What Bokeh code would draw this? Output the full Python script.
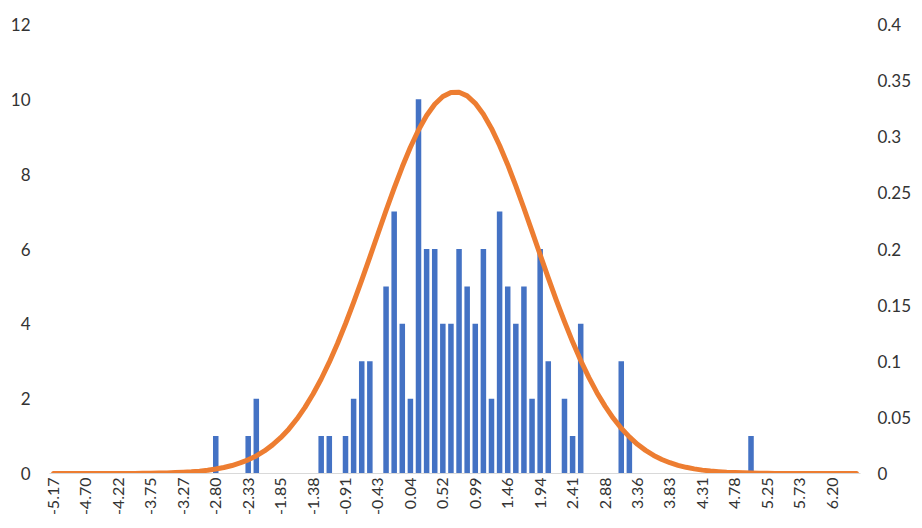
import math
from bokeh.plotting import figure
from bokeh.models import Range1d, LinearAxis, FixedTicker
from bokeh.embed import file_html
from bokeh.resources import INLINE

# ---- data -------------------------------------------------------------
# x-axis tick labels (every 4th bin of 100 bins)
tick_labels = ["-5.17", "-4.70", "-4.22", "-3.75", "-3.27", "-2.80", "-2.33",
               "-1.85", "-1.38", "-0.91", "-0.43", "0.04", "0.52", "0.99",
               "1.46", "1.94", "2.41", "2.88", "3.36", "3.83", "4.31", "4.78",
               "5.25", "5.73", "6.20"]

# frequency per bin (left axis)
counts = [0, 0, 0, 0, 0, 0, 0, 0, 0, 0,
          0, 0, 0, 0, 0, 0, 0, 0, 0, 0,
          1, 0, 0, 0, 1, 2, 0, 0, 0, 0,
          0, 0, 0, 1, 1, 0, 1, 2, 3, 3,
          0, 5, 7, 4, 2, 10, 6, 6, 4, 4,
          6, 5, 4, 6, 2, 7, 5, 4, 5, 2,
          6, 3, 0, 2, 1, 4, 0, 0, 0, 0,
          3, 1, 0, 0, 0, 0, 0, 0, 0, 0,
          0, 0, 0, 0, 0, 0, 1, 0, 0, 0,
          0, 0, 0, 0, 0, 0, 0, 0, 0, 0]

# density curve per bin (right axis)
density = [0, 0, 0, 0, 0, 0, 0, 0, 0.0001, 0.0001,
           0.0001, 0.0002, 0.0003, 0.0004, 0.0005, 0.0008, 0.0011, 0.0015, 0.0021, 0.0029,
           0.0040, 0.0053, 0.0071, 0.0094, 0.0122, 0.0157, 0.0201, 0.0255, 0.0319, 0.0395,
           0.0485, 0.0589, 0.0708, 0.0842, 0.0992, 0.1156, 0.1334, 0.1524, 0.1723, 0.1928,
           0.2136, 0.2343, 0.2543, 0.2732, 0.2906, 0.3060, 0.3189, 0.3289, 0.3358, 0.3395,
           0.3397, 0.3364, 0.3298, 0.3200, 0.3074, 0.2922, 0.2751, 0.2562, 0.2363, 0.2157,
           0.1949, 0.1743, 0.1543, 0.1352, 0.1173, 0.1007, 0.0856, 0.0720, 0.0600, 0.0494,
           0.0403, 0.0326, 0.0260, 0.0206, 0.0161, 0.0125, 0.0096, 0.0073, 0.0055, 0.0041,
           0.0030, 0.0022, 0.0016, 0.0011, 0.0008, 0.0006, 0.0004, 0.0003, 0.0002, 0.0001,
           0.0001, 0.0001, 0, 0, 0, 0, 0, 0, 0, 0]

left_ticks = [0, 2, 4, 6, 8, 10, 12]
right_ticks = [0, 0.05, 0.1, 0.15, 0.2, 0.25, 0.3, 0.35, 0.4]
right_labels = ["0", "0.05", "0.1", "0.15", "0.2", "0.25", "0.3", "0.35", "0.4"]

# ---- figure -----------------------------------------------------------
FONT = "Lato"
TXT = "#333333"
idx = list(range(len(counts)))

p = figure(width=914, height=520, output_backend="svg", toolbar_location=None,
           x_range=Range1d(-0.5, len(counts) - 0.5), y_range=Range1d(0, 12),
           min_border_left=49, min_border_right=48, min_border_top=24,
           min_border_bottom=47)
p.outline_line_color = None
p.grid.visible = False
p.background_fill_color = "white"

p.extra_y_ranges = {"pdf": Range1d(0, 0.4)}

p.vbar(x=idx, top=counts, width=0.68, fill_color="#4472C4", line_color=None)
p.line(x=idx, y=density, y_range_name="pdf", line_color="#ED7D31",
       line_width=5, line_cap="round", line_join="round")

# x axis
xa = p.xaxis[0]
tick_pos = [i * 4 for i in range(len(tick_labels))]
xa.ticker = FixedTicker(ticks=tick_pos)
xa.major_label_overrides = {t: l for t, l in zip(tick_pos, tick_labels)}
xa.major_label_orientation = math.pi / 2
xa.axis_line_color = "#d9d9d9"
xa.axis_line_width = 1
xa.major_tick_line_color = None
xa.minor_tick_line_color = None
xa.major_tick_out = 0
xa.major_tick_in = 0
xa.major_label_standoff = 4
xa.major_label_text_font = FONT
xa.major_label_text_font_size = "16px"
xa.major_label_text_color = TXT

# left axis
ya = p.yaxis[0]
ya.ticker = FixedTicker(ticks=left_ticks)
ya.axis_line_color = None
ya.major_tick_line_color = None
ya.minor_tick_line_color = None
ya.major_tick_out = 0
ya.major_tick_in = 0
ya.major_label_standoff = 19
ya.major_label_text_font = FONT
ya.major_label_text_font_size = "17px"
ya.major_label_text_color = TXT

# right axis
ra = LinearAxis(y_range_name="pdf", ticker=FixedTicker(ticks=right_ticks))
ra.major_label_overrides = {t: l for t, l in zip(right_ticks, right_labels)}
ra.axis_line_color = None
ra.major_tick_line_color = None
ra.minor_tick_line_color = None
ra.major_tick_out = 0
ra.major_tick_in = 0
ra.major_label_standoff = 17
ra.major_label_text_font = FONT
ra.major_label_text_font_size = "17px"
ra.major_label_text_color = TXT
p.add_layout(ra, "right")

open("out.html", "w").write(file_html(p, INLINE))
